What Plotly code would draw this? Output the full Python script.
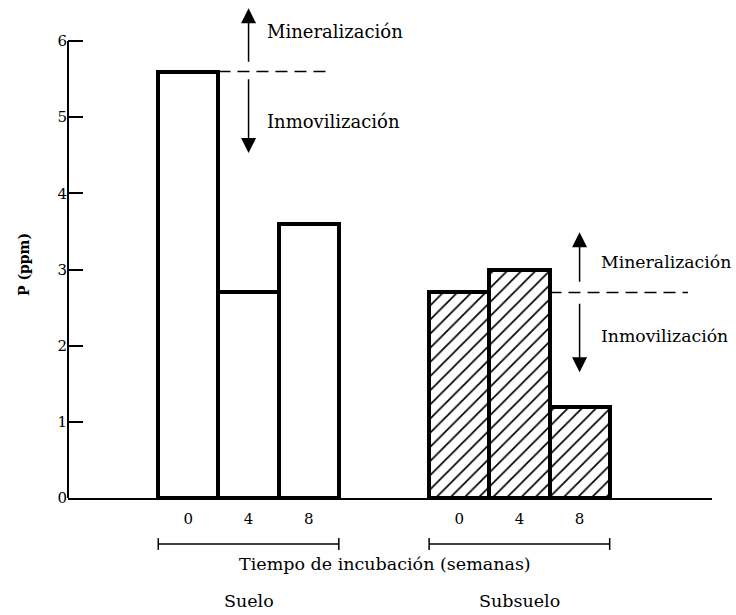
import plotly.graph_objects as go

# ---- data ----
weeks = ["0", "4", "8"]
suelo = [5.6, 2.7, 3.6]
subsuelo = [2.7, 3.0, 1.2]
groups = ["Suelo", "Subsuelo"]
y_ticks = [0, 1, 2, 3, 4, 5, 6]
x_title = "Tiempo de incubación (semanas)"
y_title = "P (ppm)"
up_label = "Mineralización"
down_label = "Inmovilización"

# ---- layout helpers (positions) ----
pos_suelo = [2.0, 3.0, 4.0]
pos_sub = [6.5, 7.5, 8.5]
bw = 1.0
FONT = "DejaVu Serif"
TOP, BOTTOM = 3, 117
PLOT_H = 615 - TOP - BOTTOM


def py2paper(py):
    """pixel row (from top of figure) -> paper y"""
    return (615 - BOTTOM - py) / PLOT_H


fig = go.Figure()
fig.add_trace(go.Bar(
    x=pos_suelo, y=suelo, width=[bw] * 3,
    marker=dict(color="white", line=dict(color="black", width=4)),
    showlegend=False, hoverinfo="skip"))
fig.add_trace(go.Bar(
    x=pos_sub, y=subsuelo, width=[bw] * 3,
    marker=dict(color="white", line=dict(color="black", width=4),
                pattern=dict(shape="/", fgcolor="black", bgcolor="white",
                             fgopacity=1, size=10, solidity=0.17)),
    showlegend=False, hoverinfo="skip"))

shapes = []
# y axis line (0..6)
shapes.append(dict(type="line", xref="paper", yref="y", x0=0, x1=0,
                   y0=0, y1=max(y_ticks), line=dict(color="black", width=2)))
# brackets under each group
ybr = py2paper(544)
dt = 6 / PLOT_H
for p in (pos_suelo, pos_sub):
    a, b = p[0] - bw / 2, p[-1] + bw / 2
    shapes.append(dict(type="line", xref="x", yref="paper", x0=a, x1=b, y0=ybr, y1=ybr,
                       line=dict(color="black", width=1.5)))
    for xx in (a, b):
        shapes.append(dict(type="line", xref="x", yref="paper", x0=xx, x1=xx,
                           y0=ybr - dt, y1=ybr + dt,
                           line=dict(color="black", width=1.5)))
# dashed reference lines
shapes.append(dict(type="line", x0=pos_suelo[0] + bw / 2, x1=4.35,
                   y0=suelo[0], y1=suelo[0],
                   line=dict(color="black", width=1.5, dash="12px,7px")))
shapes.append(dict(type="line", x0=pos_sub[1] + bw / 2, x1=10.3,
                   y0=subsuelo[0], y1=subsuelo[0],
                   line=dict(color="black", width=1.5, dash="12px,7px")))

ann = []


def arrow(x, y_tip, y_tail):
    ann.append(dict(x=x, y=y_tip, ax=x, ay=y_tail, xref="x", yref="y",
                    axref="x", ayref="y", text="", showarrow=True,
                    arrowhead=2, arrowsize=2, arrowwidth=1.5,
                    arrowcolor="black", standoff=0, startstandoff=0))


def label(x, y, text, xanchor="left", yref="y", size=18):
    ann.append(dict(x=x, y=y, xref="x", yref=yref, text=text, showarrow=False,
                    xanchor=xanchor, yanchor="middle",
                    font=dict(family=FONT, size=size, color="black")))


# Suelo arrows + labels
arrow(3.0, 6.43, 5.71)
arrow(3.0, 4.53, 5.52)
label(3.27, 6.12, up_label)
label(3.27, 4.94, down_label)
# Subsuelo arrows + labels
arrow(8.5, 3.49, 2.82)
arrow(8.5, 1.65, 2.57)
label(8.82, 3.1, up_label, size=17.3)
label(8.82, 2.13, down_label, size=17.3)

# axis title / group labels below the axis
label(5.27, py2paper(564), x_title, xanchor="center", yref="paper", size=17.5)
label(sum(pos_suelo) / 3, py2paper(601), groups[0], xanchor="center", yref="paper", size=17.5)
label(sum(pos_sub) / 3, py2paper(601), groups[1], xanchor="center", yref="paper", size=17.5)
ann.append(dict(xref="paper", yref="paper", x=-44 / 644, y=py2paper(265),
                text="<b>" + y_title + "</b>", showarrow=False,
                textangle=-90, xanchor="center", yanchor="middle",
                font=dict(family=FONT, size=14, color="black")))

fig.update_layout(
    width=736, height=615,
    margin=dict(l=68, r=24, t=TOP, b=BOTTOM, autoexpand=False),
    paper_bgcolor="white", plot_bgcolor="white",
    barmode="overlay", bargap=0,
    shapes=shapes, annotations=ann,
    font=dict(family=FONT, size=16, color="black"),
    xaxis=dict(range=[0, 10.7], showgrid=False, zeroline=False,
               showline=True, linecolor="black", linewidth=2,
               tickvals=pos_suelo + pos_sub, ticktext=weeks + weeks,
               ticks="", ticklabelstandoff=6,
               tickfont=dict(family=FONT, size=15, color="black")),
    yaxis=dict(range=[0, 6.5], showgrid=False, zeroline=False, showline=False,
               tickvals=y_ticks, ticks="inside", ticklen=15, tickwidth=2,
               tickcolor="black",
               tickfont=dict(family=FONT, size=15, color="black")),
)

fig.write_html("out.html",
               config={"displayModeBar": False},
               post_script="document.body.style.margin='0';"
                           "document.body.style.overflow='hidden';")
